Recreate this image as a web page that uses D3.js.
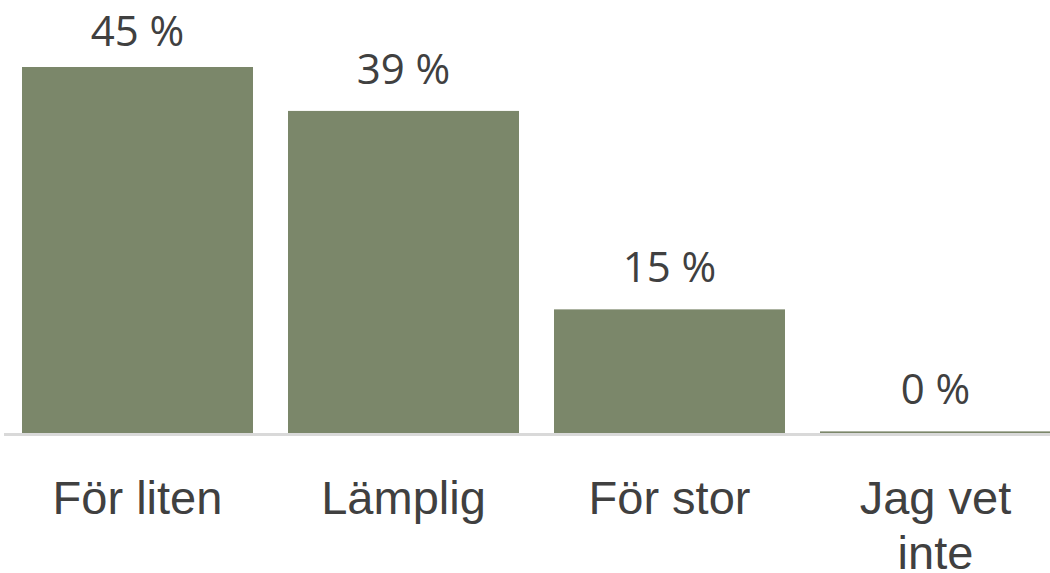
<!DOCTYPE html>
<html>
<head>
<meta charset="utf-8">
<script src="https://cdn.jsdelivr.net/npm/d3@7"></script>
<style>
  html, body { margin: 0; padding: 0; background: #ffffff; }
  svg { display: block; }
</style>
</head>
<body>
<svg id="chart" width="1050" height="573"></svg>
<script>
const categories = ["För liten", "Lämplig", "För stor", "Jag vet inte"];
const categoryLines = [["För liten"], ["Lämplig"], ["För stor"], ["Jag vet", "inte"]];
const values = [45.0, 39.6, 15.2, 0.2];
const valueLabels = ["45 %", "39 %", "15 %", "0 %"];

const svg = d3.select("#chart");
const W = 1050, H = 573;
const baseline = 433;

const x = d3.scaleBand()
  .domain(categories)
  .range([4.5, 1068.5])
  .paddingInner(0.1316)
  .paddingOuter(0.0658);

const y = d3.scaleLinear()
  .domain([0, 45])
  .range([baseline, 67]);

// bars
svg.append("g").selectAll("rect")
  .data(categories)
  .join("rect")
  .attr("x", d => x(d))
  .attr("width", x.bandwidth())
  .attr("y", (d, i) => y(values[i]))
  .attr("height", (d, i) => baseline - y(values[i]))
  .attr("fill", "#7b876a");

// axis line
svg.append("line")
  .attr("x1", 4).attr("x2", W)
  .attr("y1", baseline + 1.5).attr("y2", baseline + 1.5)
  .attr("stroke", "#d9d9d9")
  .attr("stroke-width", 3);

// value labels
svg.append("g").selectAll("text")
  .data(categories)
  .join("text")
  .attr("x", d => x(d) + x.bandwidth() / 2)
  .attr("y", (d, i) => Math.max(y(values[i]) - 27, 46))
  .attr("text-anchor", "middle")
  .attr("font-family", "'Open Sans', sans-serif")
  .attr("font-size", 42)
  .attr("fill", "#404040")
  .text((d, i) => valueLabels[i]);

// category labels
const cat = svg.append("g").selectAll("text")
  .data(categories)
  .join("text")
  .attr("text-anchor", "middle")
  .attr("font-family", "'Liberation Sans', Arial, sans-serif")
  .attr("font-size", 47)
  .attr("fill", "#404040");
cat.each(function(d, i) {
  const t = d3.select(this);
  categoryLines[i].forEach((line, j) => {
    t.append("tspan")
      .attr("x", x(d) + x.bandwidth() / 2)
      .attr("y", 514 + j * 55)
      .text(line);
  });
});
</script>
</body>
</html>
